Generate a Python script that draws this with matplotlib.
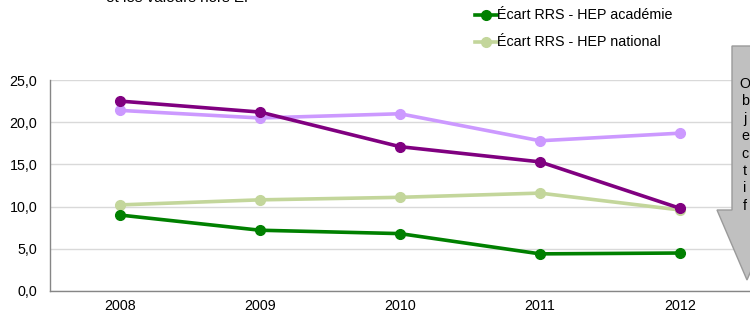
import matplotlib
matplotlib.use("Agg")
import matplotlib.pyplot as plt
from matplotlib.patches import Polygon
from matplotlib.lines import Line2D

plt.rcParams['font.family'] = ['Liberation Sans', 'DejaVu Sans']

years = ["2008", "2009", "2010", "2011", "2012"]
rrs_hep_acad_purple = [22.5, 21.2, 17.1, 15.3, 9.8]
rrs_hep_nat_purple = [21.4, 20.5, 21.0, 17.8, 18.7]
ecart_academie = [9.0, 7.2, 6.8, 4.4, 4.5]
ecart_national = [10.2, 10.8, 11.1, 11.6, 9.6]
legend_labels = ["Écart RRS - HEP académie", "Écart RRS - HEP national"]
yticks = [0, 5, 10, 15, 20, 25]
arrow_text = "Objectif"
top_text = "et les valeurs hors EP"

W, H = 750, 314
fig = plt.figure(figsize=(W/100, H/100), dpi=100)
ax = fig.add_axes([50/W, (H-291)/H, 700/W, (291-80)/H])

x = list(range(len(years)))
lw, ms = 2.6, 7
ax.plot(x, rrs_hep_nat_purple, color='#CC99FF', lw=lw, marker='o', ms=ms, zorder=3)
ax.plot(x, rrs_hep_acad_purple, color='#800080', lw=lw, marker='o', ms=ms, zorder=4)
ax.plot(x, ecart_national, color='#C3D69B', lw=lw, marker='o', ms=ms, zorder=3)
ax.plot(x, ecart_academie, color='#008000', lw=lw, marker='o', ms=ms, zorder=4)

ax.set_xlim(-0.5, len(years) - 0.5)
ax.set_ylim(0, 25)
ax.set_xticks(x)
ax.set_xticklabels(years)
ax.set_yticks(yticks)
ax.set_yticklabels([f"{v:.1f}".replace('.', ',') for v in yticks])
ax.tick_params(axis='both', length=0, labelsize=10.3, colors='#000000')
ax.tick_params(axis='x', pad=6)
ax.tick_params(axis='y', pad=9)
ax.grid(axis='y', color='#D9D9D9', lw=1)
ax.set_axisbelow(True)
for s in ['top', 'right']:
    ax.spines[s].set_visible(False)
for s in ['left', 'bottom']:
    ax.spines[s].set_color('#868686')
    ax.spines[s].set_linewidth(1)

# legend (manual)
leg_colors = ['#008000', '#C3D69B']
leg_y = [15, 42]
for lab, c, yy in zip(legend_labels, leg_colors, leg_y):
    fy = (H - yy) / H
    fig.add_artist(Line2D([475/W, 497/W], [fy, fy], color=c, lw=lw,
                          transform=fig.transFigure))
    fig.add_artist(Line2D([486/W], [fy], color=c, marker='o', ms=ms,
                          transform=fig.transFigure))
    fig.text(497/W, fy, lab, fontsize=10.3, va='center', ha='left')

# clipped top text (partially cut off in the reference as well)
fig.text(180/W, (H - 2)/H, top_text, fontsize=11, ha='center', va='baseline')

# arrow callout
pts = [(732, 46), (762, 46), (762, 210), (777, 210), (747, 280),
       (717, 210), (732, 210)]
poly = Polygon([(px/W, (H-py)/H) for px, py in pts], closed=True,
               transform=fig.transFigure, facecolor='#C0C0C0',
               edgecolor='#9A9A9A', lw=1, zorder=5)
fig.add_artist(poly)
for i, ch in enumerate(arrow_text):
    fig.text(745/W, (H - (84 + i*17.4))/H, ch, fontsize=10.3, ha='center',
             va='center', zorder=6)

fig.savefig("out.png", dpi=100)
